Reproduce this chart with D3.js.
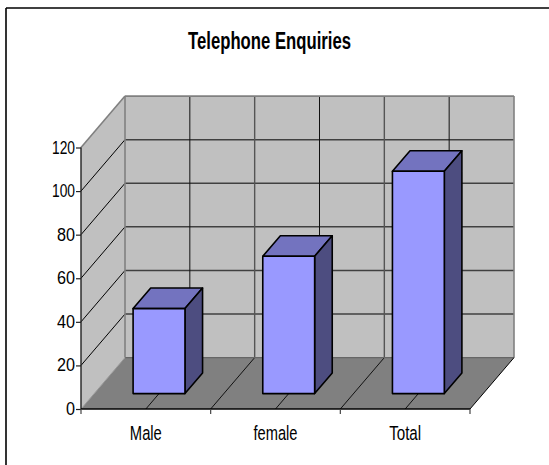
<!DOCTYPE html>
<html><head><meta charset="utf-8">
<script src="https://cdn.jsdelivr.net/npm/d3@7"></script>
<style>html,body{margin:0;padding:0;background:#fff}svg{display:block}text{font-family:"Liberation Sans",Arial,sans-serif;fill:#000}</style>
</head><body><svg id="c" width="549" height="465"></svg>
<script>
const categories = ["Male","female","Total"];
const values = [39,63,102];
const yTicks = [0,20,40,60,80,100,120];
const chartTitle = "Telephone Enquiries";

const svg = d3.select("#c");
const x = d3.scaleBand().domain(categories).range([81,470]);
const y = d3.scaleLinear().domain([0,120]).range([409,147.5]);
const zx = d3.scaleLinear().domain([0,1]).range([0,44]);
const zy = d3.scaleLinear().domain([0,1]).range([0,-51.4]);
const P = (px,v,z)=>[px+zx(z), y(v)+zy(z)];
const poly = (pts)=>"M"+pts.map(p=>p.join(",")).join("L")+"Z";
const seg = (a,b,stroke,w)=>svg.append("path").attr("d","M"+a.join(",")+"L"+b.join(",")).attr("stroke",stroke).attr("stroke-width",w).attr("fill","none");

// frame: only top and left edges are visible
seg([6,8],[549,8],"#000",1.6);
seg([6,8],[6,465],"#000",1.6);

const x0=x.range()[0], x1=x.range()[1], yMax=120;
// walls and floor
svg.append("path").attr("d",poly([P(x0,0,1),P(x1,0,1),P(x1,yMax,1),P(x0,yMax,1)])).attr("fill","#c0c0c0");
svg.append("path").attr("d",poly([P(x0,0,0),P(x0,0,1),P(x0,yMax,1),P(x0,yMax,0)])).attr("fill","#c0c0c0");
svg.append("path").attr("d",poly([P(x0,0,0),P(x1,0,0),P(x1,0,1),P(x0,0,1)])).attr("fill","#808080");

// horizontal grid on side and back walls
yTicks.slice(1,-1).forEach(t=>{
  seg(P(x0,t,0),P(x0,t,1),"#000",1);
  seg(P(x0,t,1),P(x1,t,1),"#404040",1.5);
});
// vertical grid on back wall and floor grid
const bw=x.bandwidth();
categories.forEach(c=>{
  const mid=x(c)+bw/2;
  seg(P(mid,0,1),P(mid,yMax,1),"#111",1);
  seg(P(mid,0,0),P(mid,0,1),"#111",1);
});
x.domain().slice(1).forEach(c=>{
  seg(P(x(c),0,1),P(x(c),yMax,1),"#555",1.4);
  seg(P(x(c),0,0),P(x(c),0,1),"#111",1);
});
// wall outlines
seg(P(x0,0,1),P(x0,yMax,1),"#808080",1.6);
seg(P(x0,yMax,1),P(x1,yMax,1),"#808080",1.8);
seg(P(x1,yMax,1),P(x1,0,1),"#808080",1.6);
seg(P(x0,yMax,0),P(x0,yMax,1),"#808080",1.6);
seg(P(x0,0,1),P(x1,0,1),"#666",1.4);
seg(P(x0,0,0),P(x0,0,1),"#999",1);
seg(P(x1,0,0),P(x1,0,1),"#000",1);

// bars
const barFrac=0.4, z0=0.3, z1=0.7;
categories.forEach((c,i)=>{
  const v=values[i], l=x(c)+bw*(1-barFrac)/2, r=l+bw*barFrac;
  const g=svg.append("g").attr("stroke","#000").attr("stroke-width",1.6).attr("stroke-linejoin","round");
  g.append("path").attr("d",poly([P(l,v,z0),P(r,v,z0),P(r,v,z1),P(l,v,z1)])).attr("fill","#7373bf");
  g.append("path").attr("d",poly([P(r,0,z0),P(r,0,z1),P(r,v,z1),P(r,v,z0)])).attr("fill","#4d4d80");
  g.append("path").attr("d",poly([P(l,0,z0),P(r,0,z0),P(r,v,z0),P(l,v,z0)])).attr("fill","#9999ff");
});

// axes
seg([x0,y(120)],[x0,y(0)],"#222",1.4);
seg([x0,y(0)],[x1,y(0)],"#000",1.4);
const yAxis=svg.append("g").attr("transform",`translate(${x0},0)`).call(d3.axisLeft(y).tickValues(yTicks).tickSize(5).tickPadding(1).tickSizeOuter(0));
yAxis.select(".domain").remove();
yAxis.selectAll("line").attr("stroke","#222").attr("stroke-width",1.2);
yAxis.selectAll("text").remove();
const labelW={0:9,20:18,40:18,60:18,80:18,100:23,120:23};
yTicks.forEach(t=>{
  svg.append("text").attr("x",75).attr("y",y(t)+6).attr("text-anchor","end").attr("font-size",18)
    .attr("textLength",labelW[t]).attr("lengthAdjust","spacingAndGlyphs").text(t);
});
[x0,...categories.slice(1).map(c=>x(c)),x1].forEach(px=>seg([px,409],[px,414],"#444",1.2));
const catW={Male:32,female:44,Total:32};
categories.forEach(c=>{
  svg.append("text").attr("x",x(c)+bw/2).attr("y",440).attr("text-anchor","middle").attr("font-size",20.5)
    .attr("textLength",catW[c]).attr("lengthAdjust","spacingAndGlyphs").text(c);
});
svg.append("text").attr("x",269.5).attr("y",49).attr("text-anchor","middle").attr("font-size",23).attr("font-weight","bold")
  .attr("textLength",163).attr("lengthAdjust","spacingAndGlyphs").text(chartTitle);
</script></body></html>
